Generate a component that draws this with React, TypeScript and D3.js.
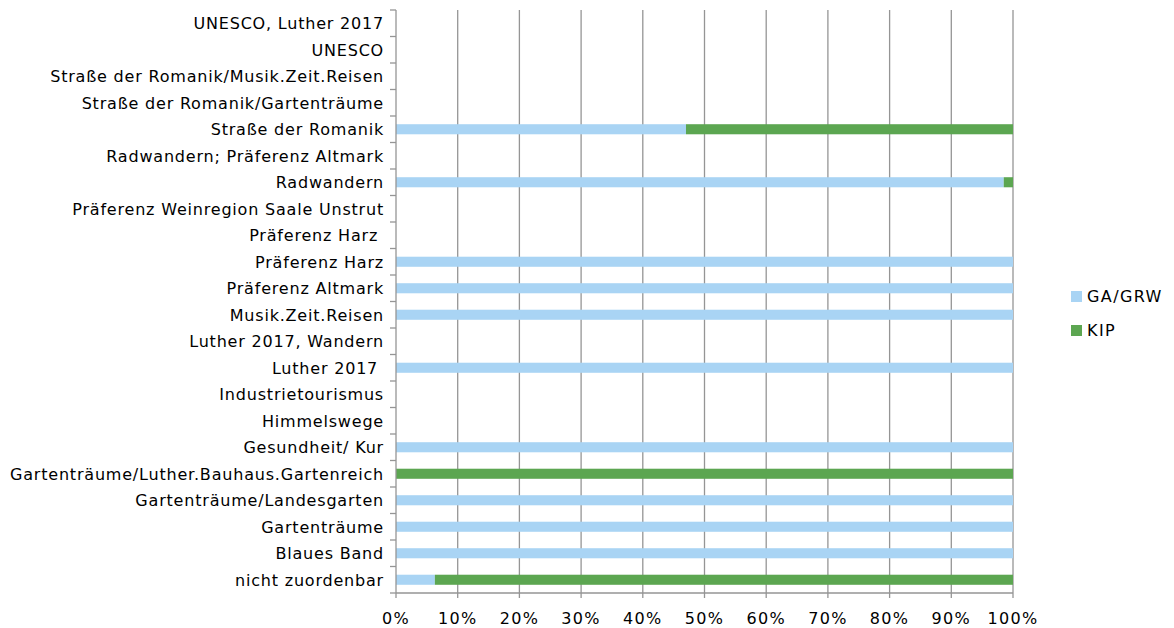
import React from "react";
import * as d3 from "d3";

const categories = [
  "UNESCO, Luther 2017",
  "UNESCO",
  "Straße der Romanik/Musik.Zeit.Reisen",
  "Straße der Romanik/Gartenträume",
  "Straße der Romanik",
  "Radwandern; Präferenz Altmark",
  "Radwandern",
  "Präferenz Weinregion Saale Unstrut",
  "Präferenz Harz ",
  "Präferenz Harz",
  "Präferenz Altmark",
  "Musik.Zeit.Reisen",
  "Luther 2017, Wandern",
  "Luther 2017 ",
  "Industrietourismus",
  "Himmelswege",
  "Gesundheit/ Kur",
  "Gartenträume/Luther.Bauhaus.Gartenreich",
  "Gartenträume/Landesgarten",
  "Gartenträume",
  "Blaues Band",
  "nicht zuordenbar",
];

const gaGrw = [0, 0, 0, 0, 47, 0, 98.5, 0, 0, 100, 100, 100, 0, 100, 0, 0, 100, 0, 100, 100, 100, 6.3];
const kip = [0, 0, 0, 0, 53, 0, 1.5, 0, 0, 0, 0, 0, 0, 0, 0, 0, 0, 100, 0, 0, 0, 93.7];

const seriesNames = ["GA/GRW", "KIP"];
const seriesColors = ["#A9D4F4", "#5CA651"];
const xTicks = [0, 10, 20, 30, 40, 50, 60, 70, 80, 90, 100];

const FONT = "'DejaVu Sans', sans-serif";

export default function App() {
  const width = 1174;
  const height = 628;
  const left = 396;
  const right = 1013;
  const top = 10;
  const bottom = 593;

  const x = d3.scaleLinear().domain([0, 100]).range([left, right]);
  const y = d3.scaleBand<string>().domain(categories).range([top, bottom]).paddingInner(0.62).paddingOuter(0.31);
  const yb = d3.scaleBand<string>().domain(categories).range([top, bottom]);

  const rows = categories.map((c, i) => ({ c, vals: [gaGrw[i], kip[i]] }));

  return (
    <svg width={width} height={height} style={{ position: "absolute", left: 0, top: 0 }}>
      <rect x={0} y={0} width={width} height={height} fill="#fff" />
      {xTicks.slice(1).map((t) => (
        <line key={t} x1={x(t)} x2={x(t)} y1={top} y2={bottom + 5} stroke="#959595" strokeWidth={1.3} />
      ))}
      {rows.map((r) => {
        let acc = 0;
        return r.vals.map((v, si) => {
          const x0 = acc;
          acc += v;
          if (!v) return null;
          return (
            <rect
              key={r.c + si}
              x={x(x0)}
              y={y(r.c)}
              width={x(x0 + v) - x(x0)}
              height={y.bandwidth()}
              fill={seriesColors[si]}
            />
          );
        });
      })}
      <line x1={left} x2={left} y1={top} y2={bottom} stroke="#959595" strokeWidth={1.3} />
      {categories.map((c, i) => (
        <line key={"t" + i} x1={left - 6} x2={left} y1={yb(c)!} y2={yb(c)!} stroke="#959595" strokeWidth={1.3} />
      ))}
      <line x1={left - 6} x2={left} y1={bottom} y2={bottom} stroke="#959595" strokeWidth={1.3} />
      <line x1={left} x2={right} y1={bottom} y2={bottom} stroke="#959595" strokeWidth={1.3} />
      <line x1={left} x2={left} y1={bottom} y2={bottom + 5} stroke="#959595" strokeWidth={1.3} />
      {categories.map((c) => (
        <text
          key={"l" + c}
          x={left - 12}
          y={yb(c)! + yb.bandwidth() / 2}
          dy="0.36em"
          textAnchor="end"
          fontFamily={FONT}
          fontSize={16}
          letterSpacing={0.8}
          fill="#000"
          style={{ whiteSpace: "pre" }}
        >
          {c}
        </text>
      ))}
      {xTicks.map((t) => (
        <text
          key={"x" + t}
          x={x(t)}
          y={624}
          textAnchor="middle"
          fontFamily={FONT}
          fontSize={16}
          letterSpacing={1.3}
          fill="#000"
        >
          {t}%
        </text>
      ))}
      {seriesNames.map((n, i) => (
        <g key={n} transform={`translate(1071, ${291 + i * 34})`}>
          <rect x={0} y={0} width={11} height={11} fill={seriesColors[i]} />
          <text x={16} y={5.5} dy="0.36em" fontFamily={FONT} fontSize={16} letterSpacing={1.4} fill="#000">
            {n}
          </text>
        </g>
      ))}
    </svg>
  );
}
